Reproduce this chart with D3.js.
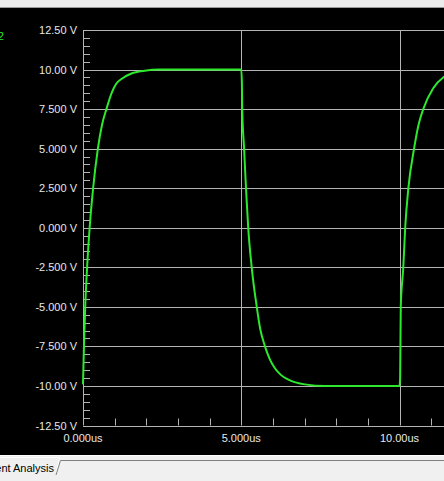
<!DOCTYPE html>
<html>
<head>
<meta charset="utf-8">
<script src="https://cdn.jsdelivr.net/npm/d3@7"></script>
<style>
  html,body{margin:0;padding:0;background:#000;overflow:hidden}
  text{font-family:"Liberation Sans",Arial,sans-serif;font-size:11px}
</style>
</head>
<body>
<div id="chart"></div>
<script>
// Datos (tiempo en us, tension en V)
var tiempos = [0, 0.03, 0.07, 0.13, 0.21, 0.32, 0.47, 0.6, 0.74, 0.9, 1.05, 1.25, 1.53, 1.95, 2.4,
  5.0, 5.02, 5.03, 5.09, 5.15, 5.22, 5.33, 5.49, 5.6, 5.75, 5.9, 6.07, 6.25, 6.49, 7.01, 7.65,
  10.0, 10.02, 10.04, 10.12, 10.18, 10.28, 10.46, 10.6, 10.75, 11.06, 11.38, 11.6];
var tensiones = [-9.9, -7.5, -5, -2.5, 0, 2.5, 5, 6.5, 7.5, 8.5, 9.1, 9.45, 9.75, 9.93, 10,
  10, 9.2, 7.5, 5, 2.5, 0, -2.5, -5, -6.4, -7.5, -8.3, -8.9, -9.3, -9.6, -9.9, -10,
  -10, -9.5, -5, -2.5, 0, 2.5, 5, 6.5, 7.5, 8.8, 9.5, 9.7];
var ticksY = [12.5, 10, 7.5, 5, 2.5, 0, -2.5, -5, -7.5, -10, -12.5];
var etiquetasY = ["12.50 V", "10.00 V", "7.500 V", "5.000 V", "2.500 V", "0.000 V",
  "-2.500 V", "-5.000 V", "-7.500 V", "-10.00 V", "-12.50 V"];
var ticksX = [0, 5, 10];
var etiquetasX = ["0.000us", "5.000us", "10.00us"];
var nombreTraza = "V2";
var pestana = "Transient Analysis";

var ancho = 444, alto = 481;
var svg = d3.select("#chart").append("svg")
  .attr("width", ancho).attr("height", alto);

// marco de ventana
svg.append("rect").attr("x",0).attr("y",0).attr("width",ancho).attr("height",7).attr("fill","#ececec");
svg.append("line").attr("x1",0).attr("x2",ancho).attr("y1",7.5).attr("y2",7.5).attr("stroke","#9a9a9a");
svg.append("rect").attr("x",0).attr("y",8).attr("width",ancho).attr("height",447).attr("fill","#000");
svg.append("rect").attr("x",0).attr("y",455).attr("width",ancho).attr("height",26).attr("fill","#f0f0f0");
svg.append("line").attr("x1",0).attr("x2",ancho).attr("y1",455.5).attr("y2",455.5).attr("stroke","#ffffff");
svg.append("path").attr("d","M0,457.5H59.5L56,475").attr("fill","none").attr("stroke","#ffffff");
svg.append("path").attr("d","M56,475L60.5,460.5H444").attr("fill","none").attr("stroke","#808080");
svg.append("text").attr("x",54).attr("y",472).attr("text-anchor","end")
  .attr("fill","#000").style("font-size","11px").text(pestana);

// Escalas
var x = d3.scaleLinear().domain([0, 10]).range([83, 399.5]);
var y = d3.scaleLinear().domain([-12.5, 12.5]).range([425.5, 30]);

var g = svg.append("g");
var gris = "#b4b4b4";

// rejilla horizontal
g.selectAll("line.gy").data(ticksY).enter().append("line")
  .attr("x1", x(0)).attr("x2", ancho)
  .attr("y1", d => Math.round(y(d)) + 0.5).attr("y2", d => Math.round(y(d)) + 0.5)
  .attr("stroke", gris);
// rejilla vertical
g.selectAll("line.gx").data(ticksX).enter().append("line")
  .attr("x1", d => Math.round(x(d)) + 0.5).attr("x2", d => Math.round(x(d)) + 0.5)
  .attr("y1", y(12.5)).attr("y2", y(-12.5))
  .attr("stroke", gris);

// marcas menores
var menoresY = d3.range(-12.5, 12.51, 0.5).filter(d => ticksY.indexOf(d) < 0);
g.selectAll("line.my").data(menoresY).enter().append("line")
  .attr("x1", x(0)).attr("x2", x(0) + 7)
  .attr("y1", d => Math.round(y(d)) + 0.5).attr("y2", d => Math.round(y(d)) + 0.5)
  .attr("stroke", gris);
var menoresX = d3.range(0, 12, 1).filter(d => ticksX.indexOf(d) < 0);
g.selectAll("line.mx").data(menoresX).enter().append("line")
  .attr("x1", d => Math.round(x(d)) + 0.5).attr("x2", d => Math.round(x(d)) + 0.5)
  .attr("y1", y(-12.5)).attr("y2", y(-12.5) - 7)
  .attr("stroke", gris);

// etiquetas
g.selectAll("text.ly").data(ticksY).enter().append("text")
  .attr("x", 77).attr("y", d => y(d) + 4)
  .attr("text-anchor", "end").attr("fill", "#e8e8e8")
  .text((d, i) => etiquetasY[i]);
g.selectAll("text.lx").data(ticksX).enter().append("text")
  .attr("x", d => x(d)).attr("y", 442)
  .attr("text-anchor", "middle").attr("fill", "#e8e8e8")
  .text((d, i) => etiquetasX[i]);

svg.append("text").attr("x", 4).attr("y", 40).attr("text-anchor", "end")
  .attr("fill", "#2de82d").text(nombreTraza);

// traza
var datos = tiempos.map((t, i) => ({t: t, v: tensiones[i]}));
var linea = d3.line().x(d => x(d.t)).y(d => y(d.v)).curve(d3.curveMonotoneX);
svg.append("clipPath").attr("id","recorte").append("rect")
  .attr("x", 80).attr("y", 8).attr("width", ancho).attr("height", 447);
svg.append("path").datum(datos)
  .attr("clip-path","url(#recorte)")
  .attr("d", linea)
  .attr("fill", "none")
  .attr("stroke", "#2de82d")
  .attr("stroke-width", 2);
</script>
</body>
</html>
